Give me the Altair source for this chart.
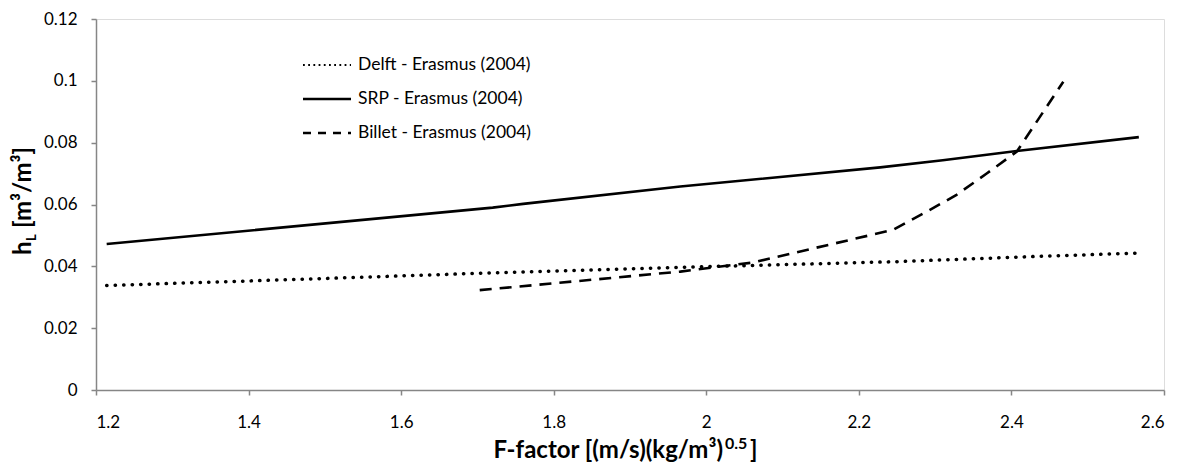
import altair as alt
import pandas as pd

# ---- data ----
delft_x = [1.214, 1.467, 1.72, 2.0, 2.248, 2.41, 2.567]
delft_y = [0.0338, 0.0358, 0.0379, 0.0399, 0.0415, 0.0430, 0.0443]

srp_x = [1.214, 1.72, 1.76, 1.966, 2.228, 2.31, 2.407, 2.567]
srp_y = [0.0472, 0.0590, 0.0602, 0.0658, 0.0720, 0.0743, 0.0773, 0.0818]

billet_x = [1.703, 1.966, 2.06, 2.245, 2.289, 2.328, 2.368, 2.407, 2.468]
billet_y = [0.0323, 0.0383, 0.0412, 0.0518, 0.0577, 0.0631, 0.0701, 0.0771, 0.0997]

series_names = ["Delft - Erasmus (2004)", "SRP - Erasmus (2004)", "Billet - Erasmus (2004)"]

x_ticks = [1.2, 1.4, 1.6, 1.8, 2.0, 2.2, 2.4, 2.6]
y_ticks = [0, 0.02, 0.04, 0.06, 0.08, 0.1, 0.12]

x_title_main = "F-factor [(m/s)(kg/m³)"
x_title_sup = "0.5"
x_title_end = "]"
y_title_main = "h"
y_title_sub = "L"
y_title_end = "[m³/m³]"

FONT = "Lato"
W, H = 1068, 371

df_delft = pd.DataFrame({"F": delft_x, "h": delft_y})
df_srp = pd.DataFrame({"F": srp_x, "h": srp_y})
df_billet = pd.DataFrame({"F": billet_x, "h": billet_y})

xs = alt.Scale(domain=[1.2, 2.6], nice=False, zero=False)
ys = alt.Scale(domain=[0, 0.12], nice=False)

x_axis = alt.Axis(values=x_ticks, labelExpr="format(datum.value, '~g')", grid=False,
                  title=None, labelFont=FONT, labelFontSize=17, labelColor="black",
                  labelPadding=19, domainColor="#868686", domainWidth=1.5,
                  tickColor="#868686", tickWidth=1.5, tickSize=5)
y_axis = alt.Axis(values=y_ticks, labelExpr="format(datum.value, '~g')", grid=False,
                  title=None, labelFont=FONT, labelFontSize=17, labelColor="black",
                  labelPadding=14, domainColor="#868686", domainWidth=1.5,
                  tickColor="#868686", tickWidth=1.5, tickSize=5)

delft = alt.Chart(df_delft).mark_line(color="black", strokeWidth=3.5, strokeCap="round",
                                      strokeDash=[0.3, 8.2]).encode(
    x=alt.X("F:Q", scale=xs, axis=x_axis), y=alt.Y("h:Q", scale=ys, axis=y_axis))
srp = alt.Chart(df_srp).mark_line(color="black", strokeWidth=2.6).encode(
    x=alt.X("F:Q", scale=xs), y=alt.Y("h:Q", scale=ys))
billet = alt.Chart(df_billet).mark_line(color="black", strokeWidth=2.6,
                                        strokeDash=[12, 8]).encode(
    x=alt.X("F:Q", scale=xs), y=alt.Y("h:Q", scale=ys))

# ---- legend (drawn manually) ----
dummy = pd.DataFrame({"a": [0]})
leg_x1, leg_x2, leg_tx = 207, 255, 262
rows = [46, 80, 114]
leg_styles = [
    dict(strokeWidth=1.8, strokeDash=[1.8, 3.4]),
    dict(strokeWidth=2.6),
    dict(strokeWidth=2.6, strokeDash=[8, 7]),
]
legend_layers = []
for name, ry, st in zip(series_names, rows, leg_styles):
    legend_layers.append(
        alt.Chart(dummy).mark_rule(color="black", **st).encode(
            x=alt.value(leg_x1), x2=alt.value(leg_x2), y=alt.value(ry)))
    legend_layers.append(
        alt.Chart(pd.DataFrame({"t": [name]})).mark_text(
            align="left", baseline="middle", font=FONT, fontSize=17.5, color="black").encode(
            x=alt.value(leg_tx), y=alt.value(ry), text="t:N"))


def txt(s, x, y, size, align="left", angle=0):
    return alt.Chart(pd.DataFrame({"t": [s]})).mark_text(
        align=align, baseline="alphabetic", angle=angle, font=FONT, fontSize=size,
        fontWeight="bold", color="black").encode(x=alt.value(x), y=alt.value(y), text="t:N")


# ---- axis titles with sub/superscripts ----
titles = [
    txt(y_title_main, -65, 236, 24, angle=270),
    txt(y_title_sub, -60, 222, 13, angle=270),
    txt(y_title_end, -65, 209, 24, angle=270),
    txt(x_title_main, 627, 439, 24, align="right"),
    txt(x_title_sup, 629, 430, 16),
    txt(x_title_end, 654, 439, 24),
]

chart = alt.layer(delft, srp, billet, *legend_layers, *titles).properties(
    width=W, height=H,
    autosize=alt.AutoSizeParams(type="none"),
    padding={"left": 96, "top": 19, "right": 17, "bottom": 80},
).configure_view(stroke=None).configure(background="white")

chart.save("out.html", embed_options={"renderer": "svg", "actions": False})
